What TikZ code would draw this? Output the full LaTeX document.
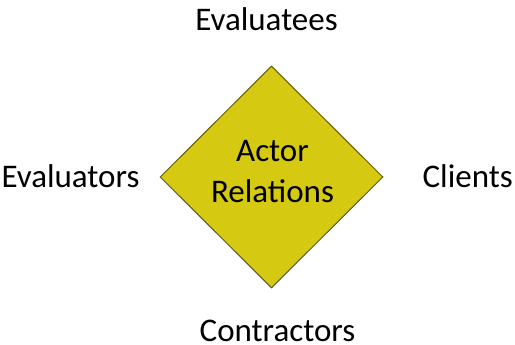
\documentclass[tikz,border=0pt]{standalone}
\usepackage{fontspec}
\setmainfont{Carlito}
\usetikzlibrary{shapes.geometric}
\definecolor{diamondfill}{RGB}{213,201,18}
\definecolor{diamondedge}{RGB}{95,92,25}
\begin{document}
\begin{tikzpicture}[x=1pt,y=-1pt,
  actor/.style={font=\fontsize{33}{40}\selectfont, inner sep=0pt, anchor=base},
  core/.style={diamond, draw=diamondedge, fill=diamondfill, line width=1pt,
    minimum width=223pt, minimum height=222pt, inner sep=0pt}]
  \useasboundingbox (0,0) rectangle (515,345);
  \node[core] (rel) at (271.5,177) {};
  \node[font=\fontsize{33}{41}\selectfont, align=center, inner sep=0pt, anchor=base] (lbl) at (272.5,203) {Actor\\Relations};
  \node[actor] (top) at (266.5,30.7) {Evaluatees};
  \node[actor] (left) at (70.5,187) {Evaluators};
  \node[actor, anchor=base east] (right) at (513,187) {Clients};
  \node[actor, text depth=0pt] (bottom) at (277.5,341) {Contractors};
\end{tikzpicture}
\end{document}
